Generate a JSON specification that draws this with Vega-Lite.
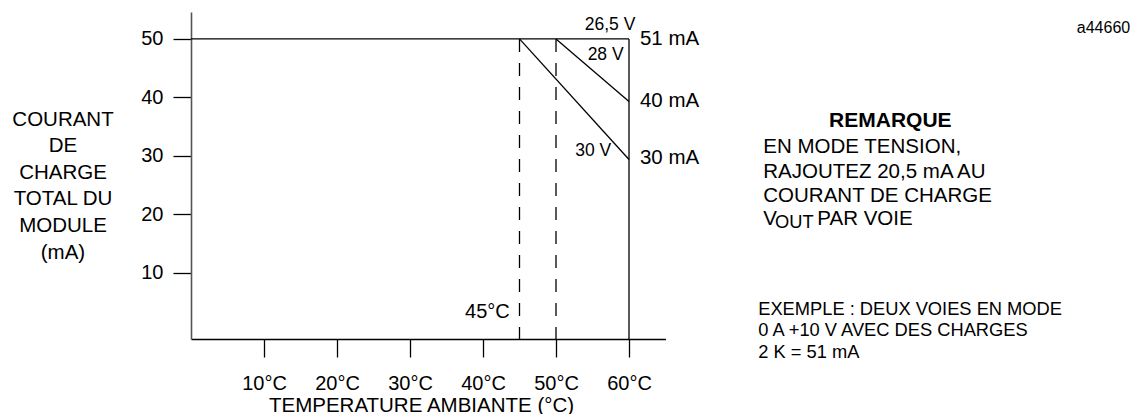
{
  "$schema": "https://vega.github.io/schema/vega-lite/v6.json",
  "autosize": {"type": "none"},
  "padding": {"left": 191, "top": 12, "right": 468.5, "bottom": 75},
  "width": 474.5,
  "height": 327,
  "background": "white",
  "config": {
    "view": {"stroke": null},
    "font": "Liberation Sans",
    "text": {"font": "Liberation Sans", "color": "black"}
  },
  "datasets": {
    "solid": [
      {"x": 0, "y": 50, "x2": 60, "y2": 50},
      {"x": 60, "y": 50, "x2": 60, "y2": -1.28},
      {"x": 45, "y": 50, "x2": 60, "y2": 29.4},
      {"x": 50, "y": 50, "x2": 60, "y2": 39.3}
    ],
    "dashed": [
      {"x": 45, "y": 50, "x2": 45, "y2": -1.28},
      {"x": 50, "y": 50, "x2": 50, "y2": -1.28}
    ],
    "leftBig": [
      {"x": 61.5, "y": 50.0, "label": "51 mA"},
      {"x": 61.5, "y": 39.4, "label": "40 mA"},
      {"x": 61.5, "y": 29.6, "label": "30 mA"},
      {"x": 78.4, "y": 31.45, "label": "EN MODE TENSION,"},
      {"x": 78.4, "y": 27.2, "label": "RAJOUTEZ 20,5 mA AU"},
      {"x": 78.4, "y": 23.2, "label": "COURANT DE CHARGE"},
      {"x": 78.4, "y": 19.2, "label": "V"},
      {"x": 85.8, "y": 19.2, "label": "PAR VOIE"}
    ],
    "voltLabels": [
      {"x": 57.4, "y": 52.4, "label": "26,5 V"},
      {"x": 56.8, "y": 47.3, "label": "28 V"},
      {"x": 55.1, "y": 30.9, "label": "30 V"}
    ],
    "centerBig": [
      {"x": 40.6, "y": 3.25, "label": "45°C"}
    ],
    "boldLabels": [
      {"x": 95.8, "y": 36.0, "label": "REMARQUE"}
    ],
    "leftSmall": [
      {"x": 80.0, "y": 18.5, "label": "OUT"},
      {"x": 77.7, "y": 3.73, "label": "EXEMPLE : DEUX VOIES EN MODE"},
      {"x": 77.7, "y": 0.09, "label": "0 A +10 V AVEC DES CHARGES"},
      {"x": 77.7, "y": -3.6, "label": "2 K = 51 mA"}
    ],
    "refLabel": [
      {"x": 125.0, "y": 51.9, "label": "a44660"}
    ]
  },
  "layer": [
    {
      "data": {"name": "solid"},
      "mark": {"type": "rule", "color": "black", "strokeWidth": 1.3},
      "encoding": {
        "x": {
          "field": "x", "type": "quantitative",
          "scale": {"domain": [0, 65], "nice": false, "zero": false},
          "axis": {
            "values": [10, 20, 30, 40, 50, 60],
            "labelExpr": "datum.value + '°C'",
            "grid": false,
            "domainColor": "black",
            "domainWidth": 1.3,
            "tickColor": "black",
            "tickWidth": 1.3,
            "tickSize": 18,
            "labelPadding": 16,
            "labelFontSize": 20,
            "labelColor": "black",
            "labelFont": "Liberation Sans",
            "title": "TEMPERATURE AMBIANTE (°C)",
            "titleFont": "Liberation Sans",
            "titleFontSize": 20.5,
            "titleFontWeight": "normal",
            "titleColor": "black",
            "titleX": 230,
            "titleY": 72,
            "titleBaseline": "alphabetic",
            "titleAnchor": null
          }
        },
        "y": {
          "field": "y", "type": "quantitative",
          "scale": {"domain": [-1.28, 54.6], "nice": false, "zero": false},
          "axis": {
            "values": [10, 20, 30, 40, 50],
            "grid": false,
            "domainColor": "#555555",
            "domainWidth": 1.6,
            "tickColor": "black",
            "tickWidth": 1.3,
            "tickSize": 18,
            "labelPadding": 10,
            "labelFontSize": 20,
            "labelColor": "black",
            "labelFont": "Liberation Sans",
            "title": ["COURANT", "DE", "CHARGE", "TOTAL DU", "MODULE", "(mA)"],
            "titleFont": "Liberation Sans",
            "titleFontSize": 20.5,
            "titleFontWeight": "normal",
            "titleColor": "black",
            "titleAngle": 0,
            "titleAlign": "center",
            "titleBaseline": "middle",
            "titleLineHeight": 26.6,
            "titleX": -128.5,
            "titleY": 107
          }
        },
        "x2": {"field": "x2"},
        "y2": {"field": "y2"}
      }
    },
    {
      "data": {"name": "dashed"},
      "mark": {"type": "rule", "color": "black", "strokeWidth": 1.3, "strokeDash": [13, 11]},
      "encoding": {
        "x": {"field": "x", "type": "quantitative"},
        "y": {"field": "y", "type": "quantitative"},
        "x2": {"field": "x2"},
        "y2": {"field": "y2"}
      }
    },
    {
      "data": {"name": "leftBig"},
      "mark": {"type": "text", "align": "left", "baseline": "middle", "fontSize": 20.5},
      "encoding": {
        "x": {"field": "x", "type": "quantitative"},
        "y": {"field": "y", "type": "quantitative"},
        "text": {"field": "label"}
      }
    },
    {
      "data": {"name": "voltLabels"},
      "mark": {"type": "text", "align": "center", "baseline": "middle", "fontSize": 17.5},
      "encoding": {
        "x": {"field": "x", "type": "quantitative"},
        "y": {"field": "y", "type": "quantitative"},
        "text": {"field": "label"}
      }
    },
    {
      "data": {"name": "centerBig"},
      "mark": {"type": "text", "align": "center", "baseline": "middle", "fontSize": 20},
      "encoding": {
        "x": {"field": "x", "type": "quantitative"},
        "y": {"field": "y", "type": "quantitative"},
        "text": {"field": "label"}
      }
    },
    {
      "data": {"name": "boldLabels"},
      "mark": {"type": "text", "align": "center", "baseline": "middle", "fontSize": 21, "fontWeight": "bold"},
      "encoding": {
        "x": {"field": "x", "type": "quantitative"},
        "y": {"field": "y", "type": "quantitative"},
        "text": {"field": "label"}
      }
    },
    {
      "data": {"name": "leftSmall"},
      "mark": {"type": "text", "align": "left", "baseline": "middle", "fontSize": 18.3},
      "encoding": {
        "x": {"field": "x", "type": "quantitative"},
        "y": {"field": "y", "type": "quantitative"},
        "text": {"field": "label"}
      }
    },
    {
      "data": {"name": "refLabel"},
      "mark": {"type": "text", "align": "center", "baseline": "middle", "fontSize": 16},
      "encoding": {
        "x": {"field": "x", "type": "quantitative"},
        "y": {"field": "y", "type": "quantitative"},
        "text": {"field": "label"}
      }
    }
  ]
}
